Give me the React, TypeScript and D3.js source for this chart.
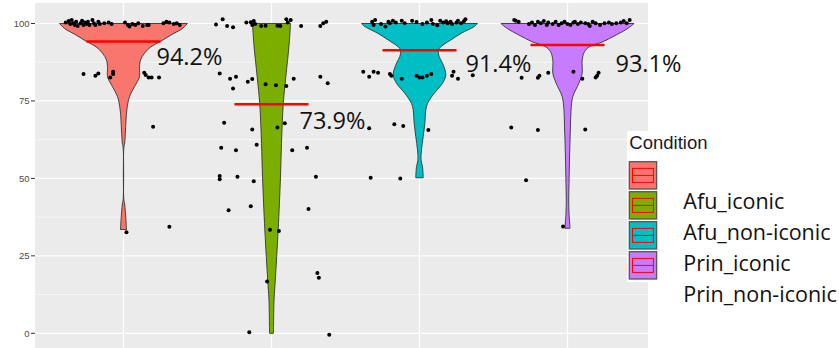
import * as d3 from "d3";

const conditions = ["Afu_iconic", "Afu_non-iconic", "Prin_iconic", "Prin_non-iconic"];
const fills = ["#F8766D", "#7CAE00", "#00BFC4", "#C77CFF"];
const means = [94.2, 73.9, 91.4, 93.1];
const meanLabels = ["94.2%", "73.9%", "91.4%", "93.1%"];
const yTicks = [0, 25, 50, 75, 100];
const yMinor = [12.5, 37.5, 62.5, 87.5];

// violin outlines: [value, relative density] (1 = widest violin)
const densityAfuIconic = [
  [100, 0.96], [98.4, 0.886], [96.3, 0.713], [94.3, 0.563], [92.5, 0.413], [90.4, 0.315],
  [88.2, 0.255], [85.5, 0.24], [82.8, 0.24], [79.6, 0.165], [76.4, 0.09], [72.1, 0.05],
  [65.6, 0.03], [61.4, 0.018], [60.1, 0.006], [43.0, 0.006], [42.1, 0.015], [38.8, 0.03], [33.5, 0.045],
];
const densityAfuNonIconic = [
  [100, 0.285], [93.6, 0.266], [82.8, 0.215], [73.9, 0.176], [61.3, 0.15], [50.5, 0.135],
  [33.3, 0.1], [17.2, 0.057], [10.7, 0.038], [0, 0.03],
];
const densityPrinIconic = [
  [100, 0.871], [99, 0.821], [96.8, 0.622], [94.7, 0.471], [92.5, 0.321], [91.4, 0.285],
  [89.3, 0.296], [87.2, 0.345], [83.4, 0.395], [80.7, 0.345], [77.5, 0.221], [74.2, 0.12],
  [72.1, 0.095], [67.8, 0.08], [63.5, 0.056], [59.2, 0.03], [55.9, 0.023], [53.8, 0.045], [50.2, 0.056],
];
const densityPrinNonIconic = [
  [100, 1.0], [98.4, 0.905], [96.3, 0.731], [94.1, 0.53], [92.5, 0.33], [90.9, 0.255],
  [88.2, 0.22], [83.9, 0.22], [80.7, 0.17], [76.4, 0.08], [72.1, 0.053], [66.7, 0.045],
  [62.4, 0.038], [55.9, 0.03], [48.4, 0.023], [43, 0.018], [38.7, 0.023], [33.9, 0.038],
];

// jittered observations: [horizontal jitter (category units), score]
const pointsAfuIconic = [
  [-0.39, 100.3], [-0.37, 100.8], [-0.36, 99.8], [-0.35, 101.1], [-0.34, 100.1], [-0.33, 99.5],
  [-0.32, 100.6], [-0.31, 99.2], [-0.29, 100.1], [-0.28, 100.9], [-0.27, 99.5], [-0.26, 100.3],
  [-0.25, 99.8], [-0.24, 100.6], [-0.23, 99.5], [-0.21, 101.1], [-0.2, 100.1], [-0.19, 99.5],
  [-0.17, 100.6], [-0.16, 99.8], [-0.13, 100.1], [-0.1, 100.3], [-0.08, 99.8], [0.01, 100.3],
  [0.03, 99.5], [0.04, 99.0], [0.06, 99.8], [0.08, 99.5], [0.1, 100.1], [0.13, 99.2],
  [0.16, 99.5], [0.17, 99.5], [0.27, 100.1], [0.29, 100.6], [0.31, 100.3], [0.34, 99.8],
  [0.36, 100.1], [0.38, 99.5],
  [-0.27, 83.7], [-0.19, 83.1], [-0.17, 83.9], [-0.09, 82.6], [-0.07, 84.4], [-0.07, 83.7],
  [0.14, 84.1], [0.15, 83.4], [0.17, 82.6], [0.19, 82.6], [0.24, 82.6],
  [0.2, 66.7], [0.02, 32.6], [0.31, 34.4],
];
const pointsAfuNonIconic = [
  [-0.375, 99.7], [-0.33, 101.4], [-0.3, 99.2], [-0.26, 98.8], [-0.17, 100.3], [-0.14, 100.4],
  [-0.13, 99.5], [-0.12, 100.8], [-0.11, 99.8], [-0.07, 99.2], [-0.04, 99.3], [0.04, 99.3],
  [0.06, 99.2], [0.1, 101.4], [0.11, 100.3], [0.13, 101.1], [0.2, 99.2], [0.33, 99.2],
  [0.35, 100.1], [0.37, 100.6],
  [-0.35, 83.9], [-0.28, 82.2], [-0.24, 82.8], [-0.26, 79.0], [-0.16, 81.2], [-0.13, 82.1],
  [-0.04, 80.4], [0.03, 80.1], [0.1, 79.8], [0.15, 82.2], [0.33, 82.8], [0.38, 80.7],
  [-0.32, 68.0], [-0.13, 65.8], [0.04, 66.4], [0.09, 67.8], [-0.1, 60.9], [-0.34, 59.9],
  [-0.24, 59.1], [0.14, 59.1], [0.24, 59.9], [-0.35, 50.8], [-0.35, 49.7], [-0.23, 50.5],
  [-0.12, 49.1], [0.3, 50.5], [-0.29, 39.7], [-0.14, 41.0], [0.25, 40.1], [-0.01, 33.4],
  [0.05, 33.0], [0.31, 19.5], [0.32, 17.9], [-0.03, 16.7], [-0.15, 0.3], [0.39, -0.5],
];
const pointsPrinIconic = [
  [-0.32, 100.6], [-0.31, 99.5], [-0.3, 101.1], [-0.26, 99.8], [-0.23, 99.0], [-0.21, 100.6],
  [-0.2, 100.1], [-0.18, 100.9], [-0.16, 100.3], [-0.12, 100.9], [-0.1, 100.1], [-0.05, 100.9],
  [-0.02, 100.5], [0.02, 99.8], [0.05, 100.3], [0.08, 101.1], [0.09, 99.8], [0.12, 99.4],
  [0.14, 100.9], [0.16, 100.3], [0.18, 100.7], [0.19, 100.1], [0.21, 100.6], [0.22, 99.8],
  [0.25, 100.3], [0.26, 100.9], [0.28, 100.1], [0.3, 100.7], [0.31, 101.4],
  [-0.38, 84.4], [-0.34, 82.8], [-0.31, 84.4], [-0.28, 84.1], [-0.2, 83.7], [-0.19, 83.1],
  [-0.12, 82.2], [-0.02, 83.1], [0.0, 82.6], [0.02, 82.6], [0.05, 83.1], [0.08, 83.7],
  [0.23, 84.4], [0.22, 83.1], [0.26, 82.2], [0.36, 83.3],
  [-0.34, 66.2], [-0.17, 67.5], [-0.11, 66.9], [0.06, 65.6], [-0.33, 50.2], [-0.13, 50.0],
];
const pointsPrinNonIconic = [
  [-0.36, 101.1], [-0.35, 100.9], [-0.33, 100.6], [-0.26, 99.8], [-0.24, 100.3], [-0.22, 99.5],
  [-0.2, 100.6], [-0.18, 100.1], [-0.16, 100.8], [-0.14, 99.5], [-0.13, 100.3], [-0.1, 99.8],
  [-0.08, 100.6], [-0.06, 99.5], [-0.04, 100.1], [-0.02, 100.6], [0.0, 99.8], [0.02, 99.5],
  [0.04, 100.3], [0.05, 100.6], [0.07, 99.8], [0.09, 100.3], [0.12, 100.1], [0.14, 99.8],
  [0.15, 99.2], [0.17, 100.6], [0.19, 100.1], [0.22, 99.5], [0.25, 100.1], [0.28, 100.3],
  [0.3, 99.8], [0.33, 100.1], [0.36, 100.3], [0.38, 100.8], [0.4, 100.1], [0.42, 101.1],
  [-0.31, 82.5], [-0.2, 82.5], [-0.19, 83.1], [-0.13, 84.1], [0.04, 84.4], [0.1, 82.2],
  [0.19, 82.6], [0.2, 83.1], [0.21, 84.1],
  [-0.38, 66.4], [-0.2, 65.6], [0.12, 65.8], [-0.28, 49.4], [-0.03, 34.5],
];

const densities = [densityAfuIconic, densityAfuNonIconic, densityPrinIconic, densityPrinNonIconic];
const points = [pointsAfuIconic, pointsAfuNonIconic, pointsPrinIconic, pointsPrinNonIconic];

// annotation nudges for the % labels (px from the mean bar centre)
const labelNudge = [[33, 24], [28, 25], [46, 22], [48, 27]];

const W = 839;
const H = 348;
const panel = { left: 35, right: 648, top: 3, bottom: 348 };

export default function App() {
  const x = d3.scaleLinear().domain([1, 4]).range([123.5, 567.5]);
  const y = d3.scaleLinear().domain([0, 100]).range([333.3, 23.5]);
  const halfW = d3.scaleLinear().domain([0, 1]).range([0, 0.45]);

  const violin = (i: number) =>
    d3
      .area<number[]>()
      .y((d) => y(d[0]))
      .x0((d) => x(i + 1 - halfW(d[1])))
      .x1((d) => x(i + 1 + halfW(d[1])))
      .curve(d3.curveCatmullRom)(densities[i] as number[][]);

  const keyTop = 161.7;
  const keyStep = 30;
  const keySize = 27.3;
  const keyX = 629.3;

  return (
    <svg
      width={W}
      height={H}
      style={{ position: "absolute", left: 0, top: 0, background: "#fff" }}
    >
      <rect
        x={panel.left}
        y={panel.top}
        width={panel.right - panel.left}
        height={panel.bottom - panel.top}
        fill="#EBEBEB"
      />
      {yMinor.map((t) => (
        <line key={"m" + t} x1={panel.left} x2={panel.right} y1={y(t)} y2={y(t)} stroke="#fff" strokeWidth={0.6} />
      ))}
      {yTicks.map((t) => (
        <line key={"g" + t} x1={panel.left} x2={panel.right} y1={y(t)} y2={y(t)} stroke="#fff" strokeWidth={1.2} />
      ))}
      {conditions.map((c, i) => (
        <line key={"v" + c} x1={x(i + 1)} x2={x(i + 1)} y1={panel.top} y2={panel.bottom} stroke="#fff" strokeWidth={1.2} />
      ))}

      {conditions.map((c, i) => (
        <path key={"vio" + c} d={violin(i) || ""} fill={fills[i]} stroke="#333" strokeWidth={0.9} />
      ))}

      {conditions.map((c, i) => (
        <line
          key={"mean" + c}
          x1={x(i + 1 - 0.25)}
          x2={x(i + 1 + 0.25)}
          y1={y(means[i])}
          y2={y(means[i])}
          stroke="#FF0000"
          strokeWidth={2.5}
        />
      ))}

      {points.map((pts, i) =>
        pts.map((p, j) => (
          <circle key={"p" + i + "-" + j} cx={x(i + 1 + p[0])} cy={y(p[1])} r={2} fill="#000" />
        ))
      )}

      {meanLabels.map((t, i) => (
        <text
          key={"lab" + i}
          x={x(i + 1) + labelNudge[i][0]}
          y={y(means[i]) + labelNudge[i][1]}
          fontFamily="Open Sans"
          fontSize={23.5}
          fill="#111"
        >
          {t}
        </text>
      ))}

      {yTicks.map((t) => (
        <g key={"yt" + t}>
          <line x1={31} x2={panel.left} y1={y(t)} y2={y(t)} stroke="#333" strokeWidth={1} />
          <text
            x={29.5}
            y={y(t) + 3.4}
            textAnchor="end"
            fontFamily="Liberation Sans"
            fontSize={9.5}
            fill="#4D4D4D"
          >
            {t}
          </text>
        </g>
      ))}

      {/* legend */}
      <rect x={627} y={131} width={W - 627} height={151} fill="#fff" />
      <text x={keyX} y={148.5} fontFamily="Liberation Sans" fontSize={18.5} fill="#1a1a2a">
        Condition
      </text>
      {conditions.map((c, i) => {
        const ky = keyTop + i * keyStep;
        return (
          <g key={"key" + c}>
            <rect x={keyX} y={ky} width={keySize} height={keySize} fill={fills[i]} stroke="#555" strokeWidth={1.3} />
            <rect x={keyX + 3.2} y={ky + 6.7} width={keySize - 6.4} height={14} fill="none" stroke="#FF0000" strokeWidth={1} />
            <line x1={keyX + 3.2} x2={keyX + keySize - 3.2} y1={ky + 13.7} y2={ky + 13.7} stroke="#FF0000" strokeWidth={1} />
          </g>
        );
      })}
      {conditions.map((c, i) => (
        <text key={"lt" + c} x={683.3} y={209 + i * 31} fontFamily="Open Sans" fontSize={21.5} fill="#111">
          {c}
        </text>
      ))}
    </svg>
  );
}
